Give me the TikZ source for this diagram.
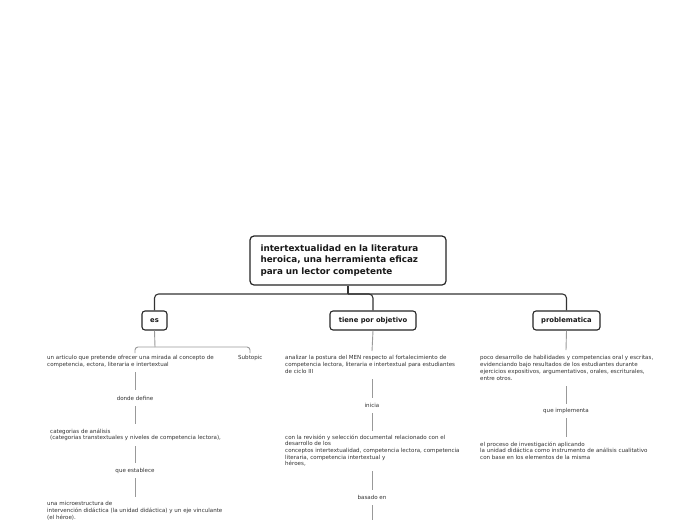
\documentclass[tikz,border=0pt]{standalone}
\usepackage{fontspec}
\setmainfont{DejaVu Sans}
\begin{document}
\begin{tikzpicture}[x=1pt,y=-1pt,
  rootbox/.style={draw=black!85,line width=1.2pt,rounded corners=4pt,fill=white,
    minimum width=196pt,minimum height=49pt,inner xsep=10.5pt,text width=175pt,align=left,
    font=\bfseries\fontsize{8.8}{11.5}\selectfont,text=black!90},
  childbox/.style={draw=black!85,line width=1.1pt,rounded corners=3pt,fill=white,
    minimum height=19pt,inner xsep=0pt,font=\bfseries\fontsize{6.8}{7}\selectfont,text=black!90},
  tree/.style={draw=black!80,line width=1.1pt,rounded corners=4pt},
  gline/.style={draw=black!40,line width=0.9pt},
  small/.style={font=\fontsize{5.55}{6.7}\selectfont,text=black!80,inner sep=0pt,align=left,anchor=north west},
  lbl/.style={font=\fontsize{5.55}{6.7}\selectfont,text=black!80,inner sep=0pt}
]
\useasboundingbox (0,0) rectangle (696,520);
\fill[white] (0,0) rectangle (696,520);

\node[rootbox] (root) at (348,260.5) {intertextualidad en la literatura\\heroica, una herramienta eficaz\\para un lector competente};

\node[childbox,minimum width=25pt] (es) at (154.5,320.5) {es};
\node[childbox,minimum width=86pt] (obj) at (373,320.5) {tiene por objetivo};
\node[childbox,minimum width=67pt] (prob) at (566.5,320.5) {problematica};

\coordinate (j) at (348,294);
\draw[draw=black!80,line width=1.1pt] (root.south) -- (j);
\draw[tree] (j) -| (es.north);
\draw[tree] (j) -| (obj.north);
\draw[tree] (j) -| (prob.north);

% left column
\coordinate (brtop) at (155,347);
\coordinate (brL) at (135,353);
\coordinate (brR) at (250,353);
\draw[gline] (es.south) -- (brtop);
\draw[gline,rounded corners=3pt] (brL) -- (135,347) -- (250,347) -- (brR);

\node[small] (t1) at (47,355.5) {un articulo que pretende ofrecer una mirada al concepto de\\competencia, ectora, literaria e intertextual};
\node[small] (sub) at (238,355.5) {Subtopic};
\node[lbl] (l1) at (135,398) {donde define};
\node[small] (t2) at (50,428.5) {categorias de análisis\\(categorias transtextuales y niveles de competencia lectora),};
\node[lbl] (l2) at (135,471) {que establece};
\node[small] (t3) at (47,501.5) {una microestructura de\\intervención didáctica (la unidad didáctica) y un eje vinculante\\(el héroe).};

\coordinate (a1) at (135,372); \coordinate (a2) at (135,390);
\coordinate (a3) at (135,406); \coordinate (a4) at (135,424);
\coordinate (a5) at (135,446); \coordinate (a6) at (135,463);
\coordinate (a7) at (135,478); \coordinate (a8) at (135,497);
\draw[gline] (a1) -- (a2);
\draw[gline] (a3) -- (a4);
\draw[gline] (a5) -- (a6);
\draw[gline] (a7) -- (a8);

% middle column
\node[small] (m1) at (285,355.5) {analizar la postura del MEN respecto al fortalecimiento de\\competencia lectora, literaria e intertextual para estudiantes\\de ciclo III};
\node[lbl] (ml1) at (372,405) {inicia};
\node[small] (m2) at (285,434.5) {con la revisión y selección documental relacionado con el\\desarrollo de los\\conceptos intertextualidad, competencia lectora, competencia\\literaria, competencia intertextual y\\héroes,};
\node[lbl] (ml2) at (372,497) {basado en};
\coordinate (b0) at (372,351);
\coordinate (b1) at (372,379); \coordinate (b2) at (372,398);
\coordinate (b3) at (372,413); \coordinate (b4) at (372,431);
\coordinate (b5) at (372,471); \coordinate (b6) at (372,490);
\coordinate (b7) at (372,505); \coordinate (b8) at (372,520);
\draw[gline] (obj.south) -- (b0);
\draw[gline] (b1) -- (b2);
\draw[gline] (b3) -- (b4);
\draw[gline] (b5) -- (b6);
\draw[gline] (b7) -- (b8);

% right column
\node[small] (r1) at (480,355.5) {poco desarrollo de habilidades y competencias oral y escritas,\\evidenciando bajo resultados de los estudiantes durante\\ejercicios expositivos, argumentativos, orales, escriturales,\\entre otros.};
\node[lbl] (rl1) at (566,411) {que implementa};
\node[small] (r2) at (480,441.5) {el proceso de investigación aplicando\\la unidad didáctica como instrumento de análisis cualitativo\\con base en los elementos de la misma};
\coordinate (c0) at (566,350);
\coordinate (c1) at (566,386); \coordinate (c2) at (566,404);
\coordinate (c3) at (566,418); \coordinate (c4) at (566,437);
\draw[gline] (prob.south) -- (c0);
\draw[gline] (c1) -- (c2);
\draw[gline] (c3) -- (c4);
\end{tikzpicture}
\end{document}
